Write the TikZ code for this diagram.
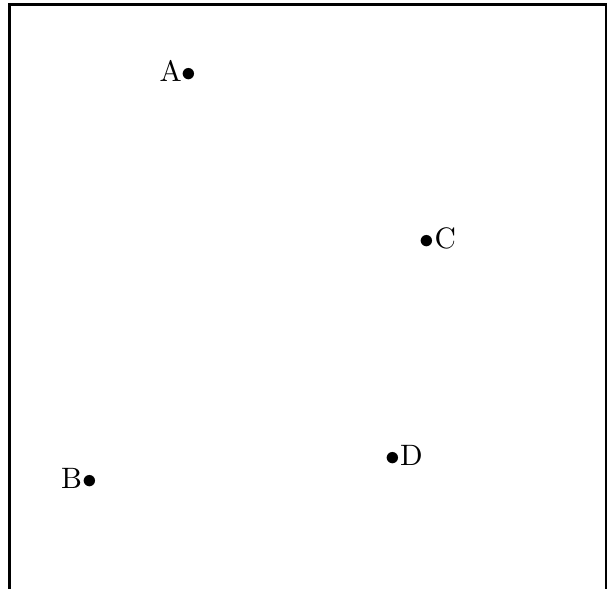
\documentclass[tikz,border=0pt]{standalone}
\usepackage{tikz}

\begin{document}
\begin{tikzpicture}[x=0.0119cm, y=-0.0119cm,
  frame/.style={draw, line width=0.7pt},
  pointlabel/.style={inner sep=0pt, anchor=base}
]
  \useasboundingbox (0,0) rectangle (613,588);
  \draw[frame] (9.5,4.5) rectangle (606,600);

  \node[pointlabel] (a) at (178,81) {A$\bullet$};
  \node[pointlabel] (c) at (438,248) {$\bullet$C};
  \node[pointlabel] (b) at (79,488) {B$\bullet$};
  \node[pointlabel] (d) at (404,465) {$\bullet$D};
\end{tikzpicture}
\end{document}
